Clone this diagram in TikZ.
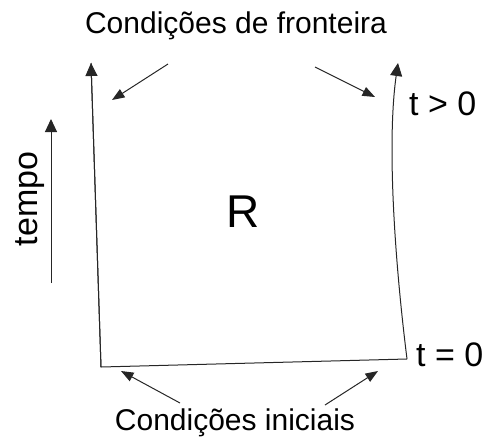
\documentclass[tikz,border=0pt]{standalone}
\usepackage{fontspec}
\setmainfont{Liberation Sans}
\usetikzlibrary{arrows.meta}
\begin{document}
\begin{tikzpicture}[x=1pt,y=-1pt,
  ln/.style={line width=1pt,draw=black!85},
  bigtip/.style={ln,-{Triangle[length=13pt,width=12pt]}},
  smalltip/.style={ln,-{Triangle[length=12.5pt,width=9.5pt]}},
  lbl/.style={inner sep=0pt,anchor=base,font=\fontsize{30}{34}\selectfont},
  tlbl/.style={inner sep=0pt,anchor=base west,font=\fontsize{34}{38}\selectfont}]
\useasboundingbox (0,0) rectangle (487,437);
% corners and tips
\coordinate (bl) at (101,367);
\coordinate (br) at (407,359);
\coordinate (tl) at (91,63);
\coordinate (tr) at (398,63);
\coordinate (ts) at (51,283);
\coordinate (te) at (51,119);
\coordinate (a1s) at (168,64);
\coordinate (a1e) at (112,100);
\coordinate (a2s) at (315,67);
\coordinate (a2e) at (375,97);
\coordinate (a3s) at (180,403);
\coordinate (a3e) at (121,371);
\coordinate (a4s) at (325,405);
\coordinate (a4e) at (378,371);
% texts
\node[lbl] (top) at (236,33) {Condições de fronteira};
\node[lbl] (bot) at (235,430) {Condições iniciais};
\node[inner sep=0pt,rotate=90,font=\fontsize{34}{38}\selectfont] (tempo) at (30,199) {tempo};
\node[inner sep=0pt,font=\fontsize{46}{50}\selectfont] (R) at (243,212) {R};
\node[tlbl] (tg) at (409,115) {t > 0};
\node[tlbl] (te0) at (416,366) {t = 0};
% region boundary
\draw[ln] (tl) -- (bl) -- (br);
\draw[bigtip] (bl) -- (tl);
\draw[bigtip] (br) .. controls (394,255) and (387,140) .. (tr);
\draw[bigtip] (ts) -- (te);
% pointer arrows
\draw[smalltip] (a1s) -- (a1e);
\draw[smalltip] (a2s) -- (a2e);
\draw[smalltip] (a3s) -- (a3e);
\draw[smalltip] (a4s) -- (a4e);
\end{tikzpicture}
\end{document}
